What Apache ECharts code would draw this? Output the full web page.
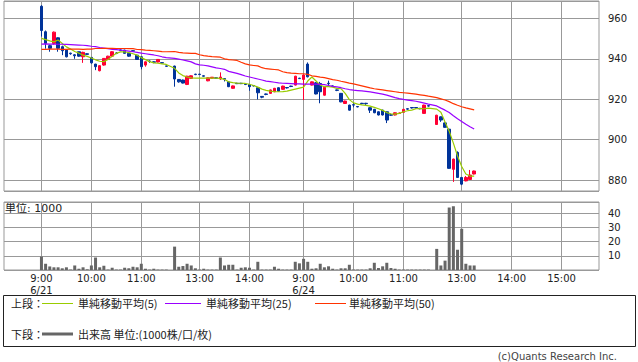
<!DOCTYPE html>
<html><head><meta charset="utf-8">
<script src="https://cdn.jsdelivr.net/npm/echarts@6/dist/echarts.min.js"></script>
<style>html,body{margin:0;padding:0;background:#fff}#c{width:638px;height:362px}</style>
</head><body><div id="c"></div>
<script>
// ---- data (5-minute bars) ----
function session(day, h0, m0, n) { const out = []; for (let i = 0; i < n; i++) { const t = h0 * 60 + m0 + 5 * i; out.push(day + ' ' + Math.floor(t / 60) + ':' + String(t % 60).padStart(2, '0')); } return out; }
const times = [...session('6/21', 9, 0, 31), ...session('6/21', 12, 30, 31), ...session('6/24', 9, 0, 31), ...session('6/24', 12, 30, 10)];

const open = [966,953.4,946.5,947.6,950.4,946,944.3,942.8,942,943.5,941,942.5,940.7,937.4,934.1,936.9,939.7,941.3,942.9,944.4,944.3,942.7,944,941.8,941,936.9,938.9,938.5,938.4,938.1,936.5,
 936.4,929.8,929.5,927.3,930.3,932.4,932.4,931.6,929.1,930.4,930.6,930,930.2,928.6,925.4,927.9,927.9,927.5,927.3,926.8,925.7,921.4,922.6,922.9,923.7,925.7,924.9,925.8,926.5,927,930.4,
 929.8,937.4,927,928.1,927.8,922,927.9,926.6,924.6,922.9,917.9,917.1,917.3,916.4,918,918,915.8,915,913.8,914.6,913.8,912.3,912.2,913,913.5,915.3,915.9,915.9,915.5,913,916.8,
 907.5,911.3,908.3,905.2,885.3,893.7,881.3,879.6,880.3,883];
const close = [954,947.6,945.2,953.2,945.2,944,941,942.5,941.5,941.3,943.2,942.2,938,936.1,936.6,940.2,941.3,943.5,942.7,944.2,942.7,941.3,943.8,939.7,936.1,938.5,938.7,938.3,939.7,937.9,936.3,
 930,928.6,928,931.4,931.6,932.2,932.2,931.4,930.6,930.9,930.4,931,929.9,926.2,926.6,927.7,927.7,927.3,926.2,926.6,923.2,921,922.4,924.6,925.4,924,926.5,925.6,926.3,931.4,930.2,
 932,931.1,928.6,922.6,923.7,925.9,927.7,926.4,924.4,918.7,919.1,914.6,917.1,916.2,917.8,917.8,914.6,913.3,912.2,912.2,909.7,912.1,913.3,913.2,915,915.1,915.7,915.7,915.3,917.1,916.6,
 912.1,909.7,906.1,885.8,890.4,881.3,878,881.3,882.5,884.5];
const low = [951,945,943.5,947,943.5,941.8,940.7,942,940,941,938,942,937.6,934.4,933.8,936.6,939.5,941,942.3,944,942.5,941,943.5,939.5,934.8,936.1,938,937.8,938.2,937.6,936,
 926.2,928.2,927.8,927,930.1,931.9,932,931.2,928.9,930.2,930.2,929.6,928.8,926,925.2,927.5,927.5,927,924.2,926.3,919.9,920.5,922,922.7,923.5,923.8,924.7,925.3,926,926.8,930,
 919.6,930.8,926.8,922.4,918,921.8,926.5,926,924,918.5,917.7,914.4,916,916,917.5,917.2,913.2,913.1,912,912,908.2,911.8,912,912.8,913.3,914.8,915.4,915.5,915,912.8,916.3,
 907.3,908.8,905.9,885.6,879.1,881.1,877.5,879.4,880.1,882.8];
const high = [966.5,954,947,953.5,950.6,946.5,944.5,943,942.3,943.5,943.5,942.7,940.9,937.5,936.8,940.4,941.5,943.8,943.3,944.6,944.5,942.9,944.2,942,941.2,938.7,939.2,938.8,939.9,938.3,936.6,
 936.6,930,929.7,931.6,931.8,932.6,932.6,931.8,930.8,931,930.8,933.3,930.4,928.8,926.8,928.1,928.1,927.7,927.5,927,925.9,921.6,922.8,924.8,925.6,925.9,926.7,926,926.7,931.6,930.6,
 932.2,938.2,928.8,928.5,928.6,926.1,929.2,926.8,924.8,923.1,919.3,917.3,918.3,916.6,918.2,918.2,916,915.2,914,914.8,914,912.5,913.5,913.4,915.2,915.5,916.1,916.1,915.7,917.3,917,
 912.3,911.5,908.5,905.4,890.6,894.2,881.5,882,885,884.7];
const volume = [9.5,4.4,2.5,1.9,1.9,1.2,1.9,0.3,3.2,0.9,1.9,0.5,3.2,8.8,1.9,3.0,0.3,1.6,0.3,0.3,1.6,1.2,2.3,1.9,4.4,0.9,0.3,0.9,0.3,0.3,0.3,
 16.5,2.3,2.8,4.4,3.2,1.2,0.3,0.9,0.3,0.3,0.3,8.8,3.2,3.7,3.7,0.3,1.6,1.9,1.6,0.3,5.8,0.3,0.3,0.3,2.3,0.9,0.3,0.3,0.3,5.8,4.7,
 7.9,5.8,0.9,1.2,4.4,1.9,2.6,0.9,0.3,1.2,1.2,3.7,0.3,0.3,0.3,0.3,1.2,5.1,1.4,2.6,5.1,1.4,0.9,0.3,0.3,0.3,0.3,0.3,0.3,0.3,0.3,
 14.9,3.2,6.6,44.1,45.0,14.3,29.1,4.4,3.2,3.2];
const ma5 = [950.1,949.5,948.9,948.4,949.3,947.6,945.9,944.8,943.6,942.8,941.8,941.2,940.4,939.5,938.8,938.6,939.7,941.2,942.7,943.4,943.5,943.1,942.5,941.8,940.6,939.6,938.6,938.0,937.8,937.5,937.2,
 935.3,933.0,931.7,931.0,930.6,930.4,930.4,930.4,930.5,930.4,930.4,930.3,929.8,928.6,928.2,928.0,927.9,927.8,927.4,926.8,926.0,925.0,924.4,924.0,923.8,923.7,923.8,924.0,924.5,925.0,925.5,
 926.0,929.0,931.0,929.0,927.0,926.2,926.2,926.0,925.4,925.2,922.9,919.8,918.2,917.6,917.2,917.0,916.6,916.0,915.3,914.5,913.4,912.8,912.6,913.0,913.8,914.3,914.6,915.3,915.4,915.3,915.6,
 915.1,913.6,908.7,904.2,898.3,891.9,886.7,883.0,882.0,882.0];
const ma25 = [947.3,947.4,947.3,947.3,947.2,947.2,947.1,947.0,946.9,946.8,946.7,946.5,946.2,946.0,945.6,945.3,945.0,944.7,944.5,944.3,944.1,943.8,943.5,943.2,942.8,942.5,942.2,941.9,941.5,941.0,940.6,
 940.2,939.8,939.4,939.0,938.5,937.5,937.0,936.8,936.5,936.0,935.5,935.2,934.8,933.8,933.3,932.8,932.2,931.5,931.0,930.5,930.0,929.5,929.0,928.7,928.4,928.1,927.9,927.8,927.7,927.6,927.6,
 927.5,927.5,927.5,927.5,927.4,927.2,926.8,926.4,926.1,925.7,925.2,924.8,924.5,924.3,924.1,923.9,923.6,923.3,922.9,922.5,922.0,921.4,920.8,920.3,919.9,919.6,919.3,919.0,918.6,918.1,917.6,
 916.7,915.6,914.6,913.4,911.8,910.3,909.0,907.6,906.4,905.3];
const ma50 = [944.7,944.7,944.8,944.8,944.8,944.7,944.7,944.8,944.8,944.8,944.7,944.8,944.8,945.1,945.1,945.2,945.2,945.2,945.1,945.1,945.1,945.0,945.0,944.6,944.5,944.3,944.2,944.0,943.8,943.6,943.5,
 943.6,943.2,942.9,942.8,942.7,942.7,942.0,941.6,941.3,941.1,941.0,940.8,940.0,939.6,939.4,939.2,938.3,937.5,937.0,936.7,936.5,935.6,935.1,934.9,934.7,934.5,933.6,933.2,932.9,932.8,932.6,
 932.6,932.3,931.6,931.3,930.9,930.7,930.2,929.7,929.4,928.9,928.5,928.0,927.6,927.1,926.6,926.1,925.6,925.2,924.9,924.6,924.3,924.0,923.7,923.4,923.2,923.0,922.8,922.5,922.2,921.9,921.5,
 920.8,920.2,919.6,918.8,917.8,917.0,916.3,915.7,915.2,914.7];

const tickTimes = ['6/21 9:00','6/21 10:00','6/21 11:00','6/21 13:00','6/21 14:00','6/24 9:00','6/24 10:00','6/24 11:00','6/24 13:00','6/24 14:00','6/24 15:00'];
const priceTicks = [880, 900, 920, 940, 960];
const volTicks = [10, 20, 30, 40];

// ---- compressed trading-time axis: one slot per 5 minutes, one empty slot at lunch ----
function slotOf(t) {
  const [d, hm] = t.split(' ');
  const [h, m] = hm.split(':').map(Number);
  const mins = h * 60 + m;
  const within = mins <= 690 ? (mins - 540) / 5 : (mins - 750) / 5 + 32;
  return (d === '6/24' ? 63 : 0) + within;
}
const xs = times.map(slotOf);
const labelFor = {};
tickTimes.forEach(t => { const [d, hm] = t.split(' '); labelFor[slotOf(t)] = hm === '9:00' ? hm + '\n' + d : hm; });

const GRID = '#999';
const FONT = "'DejaVu Sans', 'Noto Sans CJK JP', sans-serif";
const CJK = "'Noto Sans CJK JP', sans-serif";
const xMin = -9, xMax = 134;
const gridSlots = tickTimes.map(slotOf);
const splitColors = [];
for (let v = xMin; v <= xMax; v++) splitColors.push(gridSlots.includes(v) ? GRID : 'transparent');

function xAxisCfg(gi, showLabels) {
  return {
    type: 'value', gridIndex: gi, min: xMin, max: xMax, interval: 1,
    axisLine: { show: false }, axisTick: { show: false },
    splitLine: { show: true, lineStyle: { color: splitColors, width: 1 } },
    axisLabel: { show: showLabels, formatter: v => labelFor[v] || '', margin: 2, fontSize: 10, lineHeight: 12.5, color: '#222', fontFamily: FONT }
  };
}

const candleData = xs.map((x, i) => [x, open[i], close[i], low[i], high[i]]);
const pair = arr => xs.map((x, i) => [x, arr[i]]);

const chart = echarts.init(document.getElementById('c'), null, { renderer: 'svg' });
chart.setOption({
  animation: false,
  backgroundColor: '#fff',
  grid: [
    { left: 4, top: 1, width: 595, height: 190, show: true, borderColor: GRID, borderWidth: 1, backgroundColor: '#fff' },
    { left: 4, top: 202, width: 595, height: 68, show: true, borderColor: GRID, borderWidth: 1, backgroundColor: '#fff' }
  ],
  xAxis: [xAxisCfg(0, false), xAxisCfg(1, true)],
  yAxis: [
    { type: 'value', gridIndex: 0, position: 'right', min: 874.6, max: 968.6, splitNumber: 5,
      axisLine: { show: false }, axisTick: { show: true, length: 5, lineStyle: { color: GRID } },
      splitLine: { show: true, lineStyle: { color: GRID } },
      axisLabel: { margin: 9, fontSize: 10, color: '#222', fontFamily: FONT, formatter: v => priceTicks.includes(v) ? String(v) : '' } },
    { type: 'value', gridIndex: 1, position: 'right', min: 0, max: 48, splitNumber: 5,
      axisLine: { show: false }, axisTick: { show: true, length: 5, lineStyle: { color: GRID } },
      splitLine: { show: true, lineStyle: { color: GRID } },
      axisLabel: { margin: 9, fontSize: 10, color: '#222', fontFamily: FONT, formatter: v => volTicks.includes(v) ? String(v) : '' } }
  ],
  series: [
    { type: 'candlestick', name: '株価', xAxisIndex: 0, yAxisIndex: 0, data: candleData, encode: { x: 0, y: [1, 2, 3, 4] },
      barWidth: 3, itemStyle: { color: '#ff0033', color0: '#003399', borderColor: '#ff0033', borderColor0: '#003399', borderWidth: 1 } },
    { type: 'line', name: '単純移動平均(5)', xAxisIndex: 0, yAxisIndex: 0, data: pair(ma5), symbol: 'none', lineStyle: { color: '#99cc00', width: 1.2 } },
    { type: 'line', name: '単純移動平均(25)', xAxisIndex: 0, yAxisIndex: 0, data: pair(ma25), symbol: 'none', lineStyle: { color: '#9900ff', width: 1.2 } },
    { type: 'line', name: '単純移動平均(50)', xAxisIndex: 0, yAxisIndex: 0, data: pair(ma50), symbol: 'none', lineStyle: { color: '#ff3300', width: 1.2 } },
    { type: 'bar', name: '出来高', xAxisIndex: 1, yAxisIndex: 1, data: pair(volume), barWidth: 3, itemStyle: { color: '#666' } }
  ],
  graphic: [
    { type: 'text', left: 5, top: 203, style: { text: '単位: 1000', font: '11px ' + FONT, fill: '#222' } },
    { type: 'rect', shape: { x: 3.5, y: 295.5, width: 632, height: 51 }, style: { fill: 'none', stroke: '#222', lineWidth: 1 } },
    { type: 'text', x: 11, y: 303, style: { text: '上段：', font: '11px ' + CJK, fill: '#222', verticalAlign: 'middle' } },
    { type: 'line', shape: { x1: 42, y1: 303.5, x2: 73, y2: 303.5 }, style: { stroke: '#99cc00', lineWidth: 1 } },
    { type: 'text', x: 78, y: 303, style: { text: '単純移動平均(5)', font: '11px ' + CJK, fill: '#222', verticalAlign: 'middle' } },
    { type: 'line', shape: { x1: 165, y1: 303.5, x2: 201, y2: 303.5 }, style: { stroke: '#9900ff', lineWidth: 1 } },
    { type: 'text', x: 206, y: 303, style: { text: '単純移動平均(25)', font: '11px ' + CJK, fill: '#222', verticalAlign: 'middle' } },
    { type: 'line', shape: { x1: 315, y1: 303.5, x2: 346, y2: 303.5 }, style: { stroke: '#ff3300', lineWidth: 1 } },
    { type: 'text', x: 349, y: 303, style: { text: '単純移動平均(50)', font: '11px ' + CJK, fill: '#222', verticalAlign: 'middle' } },
    { type: 'text', x: 11, y: 334, style: { text: '下段：', font: '11px ' + CJK, fill: '#222', verticalAlign: 'middle' } },
    { type: 'line', shape: { x1: 42, y1: 334, x2: 73, y2: 334 }, style: { stroke: '#666', lineWidth: 3 } },
    { type: 'text', x: 78, y: 334, style: { text: '出来高 単位:(1000株/口/枚)', font: '11px ' + CJK, fill: '#222', verticalAlign: 'middle' } },
    { type: 'text', x: 617, y: 356, style: { text: '(c)Quants Research Inc.', font: '10px ' + FONT, fill: '#444', align: 'right', verticalAlign: 'middle' } }
  ]
});
</script></body></html>
